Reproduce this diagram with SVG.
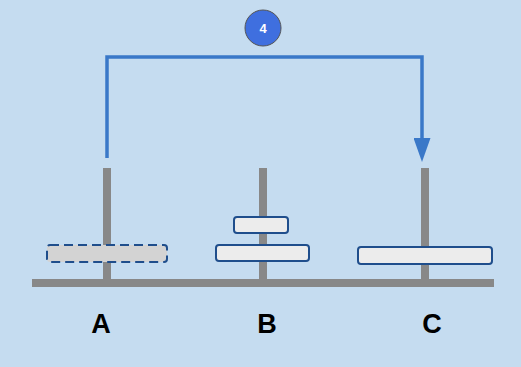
<svg xmlns="http://www.w3.org/2000/svg" width="521" height="367" viewBox="0 0 521 367">
<defs>
<style>
.peg{fill:#888888}
.disk{fill:#ececec;stroke:#1f4e8c;stroke-width:2}
.ghost{fill:#d3d3d3;stroke:#1f4e8c;stroke-width:2;stroke-dasharray:9 5}
.lbl{font-family:"Liberation Sans",Arial,sans-serif;font-weight:bold;font-size:27px;fill:#000;text-anchor:middle}
.conn{fill:none;stroke:#3a78c8;stroke-width:3.5}
</style>
<marker id="ah" markerWidth="24" markerHeight="17" refX="12" refY="8.5" orient="auto" markerUnits="userSpaceOnUse" viewBox="0 0 24 17">
<path d="M0,0 L24,8.5 L0,17 Z" fill="#3a78c8"/>
</marker>
</defs>
<rect width="521" height="367" fill="#c5dcf0"/>
<g id="base"><rect class="peg" x="32" y="279" width="462" height="8"/></g>
<g id="pegA"><rect class="peg" x="103" y="168" width="8" height="112"/><text class="lbl" x="101" y="333">A</text></g>
<g id="pegB"><rect class="peg" x="259" y="168" width="8" height="112"/><text class="lbl" x="267" y="333">B</text></g>
<g id="pegC"><rect class="peg" x="421" y="168" width="8" height="112"/><text class="lbl" x="432" y="333">C</text></g>
<g id="diskA"><rect class="ghost" x="47" y="245" width="120" height="17" rx="3"/></g>
<g id="diskB1"><rect class="disk" x="234" y="217" width="54" height="16" rx="3"/></g>
<g id="diskB2"><rect class="disk" x="216" y="245" width="93" height="16" rx="3"/></g>
<g id="diskC"><rect class="disk" x="358" y="247" width="134" height="17" rx="3"/></g>
<g id="connectors">
<path class="conn" d="M107,158 V57 H422 V150" marker-end="url(#ah)"/>
</g>
<g id="step">
<circle cx="263" cy="28" r="18" fill="#3f6fdf" stroke="#555" stroke-width="1"/>
<text x="263" y="33" font-family="Liberation Sans,Arial,sans-serif" font-weight="bold" font-size="13" fill="#fff" text-anchor="middle">4</text>
</g>
</svg>
